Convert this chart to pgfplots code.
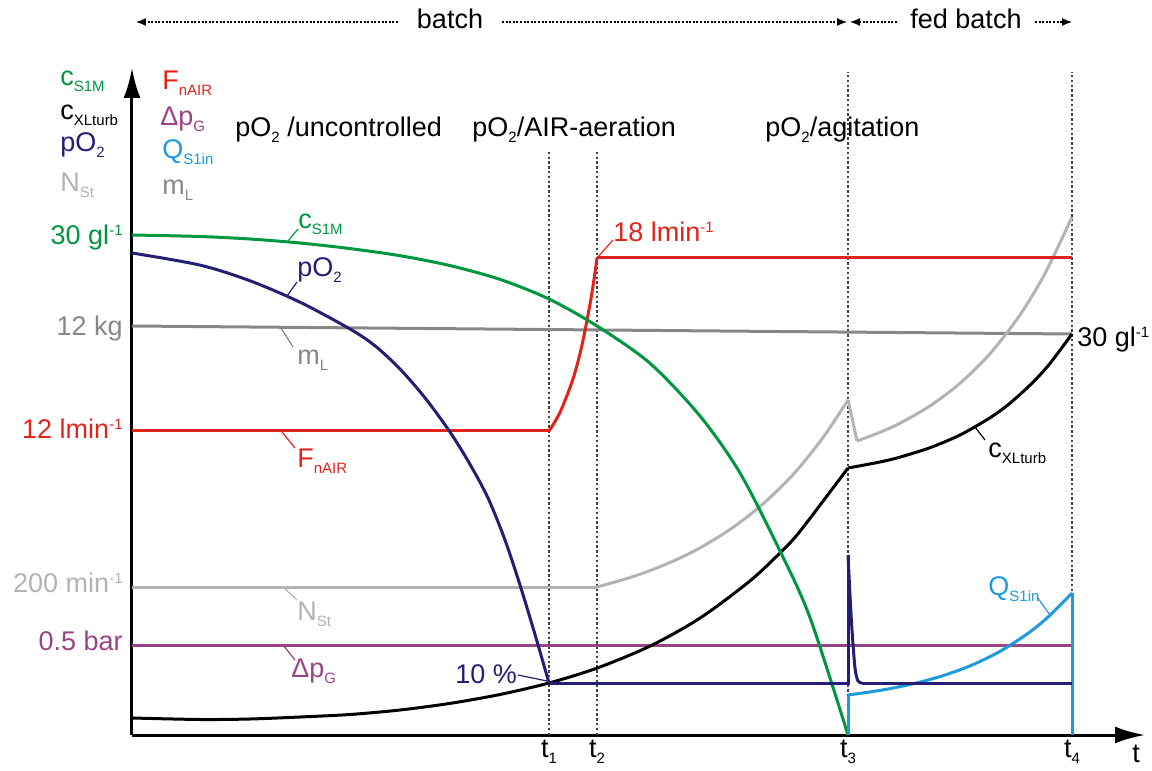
\documentclass[border=0pt]{standalone}
\usepackage{pgfplots}
\pgfplotsset{compat=1.18}
\usepackage{fontspec}
\setmainfont{Liberation Sans}
\usetikzlibrary{arrows.meta}
\definecolor{cgreen}{HTML}{009640}
\definecolor{cred}{HTML}{E2231A}
\definecolor{cnavy}{HTML}{241F74}
\definecolor{clgray}{HTML}{B3B3B3}
\definecolor{cmgray}{HTML}{878787}
\definecolor{cpurple}{HTML}{9A4484}
\definecolor{cblue}{HTML}{1E9BDC}
\definecolor{cdot}{HTML}{404040}
\newcommand{\sub}[1]{\raisebox{-3pt}{\fontsize{7.5}{8}\selectfont #1}}
\newcommand{\sups}[1]{\raisebox{4.5pt}{\fontsize{7.5}{8}\selectfont #1}}
\begin{document}
\begin{tikzpicture}[font=\fontsize{13.5}{16}\selectfont]
\begin{axis}[
  x=0.5pt, y=0.5pt,
  xmin=132, xmax=1145, ymin=30, ymax=697,
  axis lines=left,
  x axis line style={line width=1.5pt, -{Latex[length=15pt,width=8.5pt]}},
  y axis line style={line width=1.5pt, -{Latex[length=15pt,width=8.5pt]}},
  xtick={549,597,848,1072},
  xticklabels={t\sub{1},t\sub{2},t\sub{3},t\sub{4}},
  ytick=\empty,
  major tick length=0pt,
  xticklabel style={font=\fontsize{13.5}{16}\selectfont, anchor=north, yshift=1pt},
  clip=false,
  every axis plot/.append style={line width=1.5pt},
]
% bounding box of the whole picture
\path (axis cs:0,0) rectangle (axis cs:1152,765);

% dotted phase lines
\draw[cdot, line width=0.6pt, dash pattern=on 1.2pt off 1.2pt] (axis cs:549,30) -- (axis cs:549,615);
\draw[cdot, line width=0.6pt, dash pattern=on 1.2pt off 1.2pt] (axis cs:597,30) -- (axis cs:597,615);
\draw[cdot, line width=0.6pt, dash pattern=on 1.2pt off 1.2pt] (axis cs:848,30) -- (axis cs:848,693);
\draw[cdot, line width=0.6pt, dash pattern=on 1.2pt off 1.2pt] (axis cs:1072,30) -- (axis cs:1072,693);

% Delta p_G
\addplot[cpurple, sharp plot] coordinates {(132,120) (1072,120)};
% m_L
\addplot[cmgray, sharp plot] coordinates {(132,439) (1072,431)};
% N_St
\addplot[clgray, sharp plot] coordinates {(132,178) (597,178)};
\addplot[clgray, smooth, tension=0.5] coordinates {(597,178) (625,185.9) (650,194.4) (675,204.7) (700,217.1) (730,235.5) (757,256) (780,277) (800,298.3) (825,330.2) (848,365)};
\addplot[clgray, sharp plot] coordinates {(848,365) (857,324)};
\addplot[clgray, smooth, tension=0.5] coordinates {(857,324) (880,332.7) (900,341.8) (930,359.1) (960,381.7) (990,411.3) (1020,450.1) (1045,491.5) (1072,548)};
% F_nAIR
\addplot[cred, sharp plot] coordinates {(132,334) (549,334)};
\addplot[cred, smooth, tension=0.5] coordinates {(549,334) (560,352.6) (573,386) (582,420) (590,460.7) (594,485.6) (597,507)};
\addplot[cred, sharp plot] coordinates {(597,507) (1072,507)};
% c_XLturb
\addplot[black, smooth, tension=0.5] coordinates {(132,47) (200,45.5) (250,46) (300,48) (350,50.5) (400,55) (450,61.6) (500,70.5) (549,82) (597,96.9) (650,118.9) (700,146.9) (750,184.1) (780,212.1) (800,233.7) (848,297)};
\addplot[black, smooth, tension=0.5] coordinates {(848,297) (880,303) (900,307.9) (930,317.3) (960,330) (990,347.2) (1010,361.8) (1033,382.8) (1050,401.6) (1072,431)};
% c_S1M
\addplot[cgreen, smooth, tension=0.5] coordinates {(132,530) (200,528.5) (250,526) (300,522) (350,516.4) (400,509.3) (450,499.4) (500,485.6) (549,466) (597,439) (650,401.7) (700,349) (740,292) (780,214) (810,147.4) (848,30)};
% Q_S1in
\addplot[cblue, sharp plot] coordinates {(848,30) (848,70)};
\addplot[cblue, smooth, tension=0.5] coordinates {(848,70) (880,74.6) (910,80.5) (940,88.4) (970,99.1) (1000,113.6) (1030,133.1) (1050,149.8) (1072,172)};
\addplot[cblue, sharp plot] coordinates {(1072,172) (1072,30)};
% pO2
\addplot[cnavy, smooth, tension=0.5] coordinates {(132,512) (200,499.9) (250,484.2) (300,462.8) (350,436) (375,419.2) (400,396) (425,367.2) (450,333) (470,300.7) (488,267) (505,225) (520,180) (535,130.5) (549,82)};
\addplot[cnavy, sharp plot] coordinates {(549,82) (848,82) (848,210)};
\addplot[cnavy, smooth] coordinates {(848,210) (850,170) (852,135) (855,97) (858,84) (862,82)};
\addplot[cnavy, sharp plot] coordinates {(862,82) (1072,82)};

% top phase arrows
\draw[black, line width=0.6pt, dash pattern=on 1pt off 0.8pt, -{Latex[length=5pt,width=4pt]}] (axis cs:398,743) -- (axis cs:136,743);
\draw[black, line width=0.6pt, dash pattern=on 1pt off 0.8pt, -{Latex[length=5pt,width=4pt]}] (axis cs:502,743) -- (axis cs:847,743);
\draw[black, line width=0.6pt, dash pattern=on 1pt off 0.8pt, -{Latex[length=5pt,width=4pt]}] (axis cs:897,743) -- (axis cs:850,743);
\draw[black, line width=0.6pt, dash pattern=on 1pt off 0.8pt, -{Latex[length=5pt,width=4pt]}] (axis cs:1035,743) -- (axis cs:1072,743);
\node[anchor=base] at (axis cs:450,736) {batch};
\node[anchor=base] at (axis cs:966,736) {fed batch};

% phase titles
\node[anchor=base west, inner sep=0pt] at (axis cs:235,628) {pO\sub{2} /uncontrolled};
\node[anchor=base west, inner sep=0pt] at (axis cs:472,628) {pO\sub{2}/AIR-aeration};
\node[anchor=base west, inner sep=0pt] at (axis cs:765,628) {pO\sub{2}/agitation};

% legend columns
\node[anchor=base west, inner sep=0pt, text=cgreen] at (axis cs:60,679) {c\sub{S1M}};
\node[anchor=base west, inner sep=0pt, text=black] at (axis cs:60,645) {c\sub{XLturb}};
\node[anchor=base west, inner sep=0pt, text=cnavy] at (axis cs:60,613) {pO\sub{2}};
\node[anchor=base west, inner sep=0pt, text=clgray] at (axis cs:60,573) {N\sub{St}};
\node[anchor=base west, inner sep=0pt, text=cred] at (axis cs:162,675) {F\sub{nAIR}};
\node[anchor=base west, inner sep=0pt, text=cpurple] at (axis cs:160,639) {Δp\sub{G}};
\node[anchor=base west, inner sep=0pt, text=cblue] at (axis cs:162,606) {Q\sub{S1in}};
\node[anchor=base west, inner sep=0pt, text=cmgray] at (axis cs:162,570) {m\sub{L}};

% y-side value labels
\node[anchor=base east, inner sep=0pt, text=cgreen] at (axis cs:123,520) {30 gl\sups{-1}};
\node[anchor=base east, inner sep=0pt, text=cmgray] at (axis cs:123,429) {12 kg};
\node[anchor=base east, inner sep=0pt, text=cred] at (axis cs:123,326) {12 lmin\sups{-1}};
\node[anchor=base east, inner sep=0pt, text=clgray] at (axis cs:123,172) {200 min\sups{-1}};
\node[anchor=base east, inner sep=0pt, text=cpurple] at (axis cs:123,115) {0.5 bar};

% other value labels
\draw[cred, line width=0.6pt] (axis cs:598,508) -- (axis cs:613,525);
\node[anchor=base west, inner sep=0pt, text=cred] at (axis cs:613,523) {18 lmin\sups{-1}};
\node[anchor=base west, inner sep=0pt, text=black] at (axis cs:1077,418) {30 gl\sups{-1}};
\draw[cnavy, line width=0.6pt] (axis cs:518,90) -- (axis cs:547,84);
\node[anchor=base west, inner sep=0pt, text=cnavy] at (axis cs:455,82) {10 \%};

% curve labels with leaders
\draw[cgreen, line width=0.6pt] (axis cs:288,524) -- (axis cs:298,536);
\node[anchor=base west, inner sep=0pt, text=cgreen] at (axis cs:298,536) {c\sub{S1M}};
\draw[cnavy, line width=0.6pt] (axis cs:287,469) -- (axis cs:297,483);
\node[anchor=base west, inner sep=0pt, text=cnavy] at (axis cs:297,488) {pO\sub{2}};
\draw[cmgray, line width=0.6pt] (axis cs:281,437) -- (axis cs:293,418);
\node[anchor=base west, inner sep=0pt, text=cmgray] at (axis cs:297,400) {m\sub{L}};
\draw[cred, line width=0.6pt] (axis cs:282,333) -- (axis cs:295,317);
\node[anchor=base west, inner sep=0pt, text=cred] at (axis cs:297,297) {F\sub{nAIR}};
\draw[clgray, line width=0.6pt] (axis cs:283,178) -- (axis cs:297,165);
\node[anchor=base west, inner sep=0pt, text=clgray] at (axis cs:297,145) {N\sub{St}};
\draw[cpurple, line width=0.6pt] (axis cs:283,120) -- (axis cs:295,105);
\node[anchor=base west, inner sep=0pt, text=cpurple] at (axis cs:291,88) {Δp\sub{G}};
\draw[black, line width=0.6pt] (axis cs:975,338) -- (axis cs:985,325);
\node[anchor=base west, inner sep=0pt, text=black] at (axis cs:988,307) {c\sub{XLturb}};
\draw[cblue, line width=0.6pt] (axis cs:1037,168) -- (axis cs:1050,150);
\node[anchor=base west, inner sep=0pt, text=cblue] at (axis cs:988,170) {Q\sub{S1in}};

% axis label t
\node[anchor=base, inner sep=0pt] at (axis cs:1136,3) {t};
\end{axis}
\end{tikzpicture}
\end{document}
